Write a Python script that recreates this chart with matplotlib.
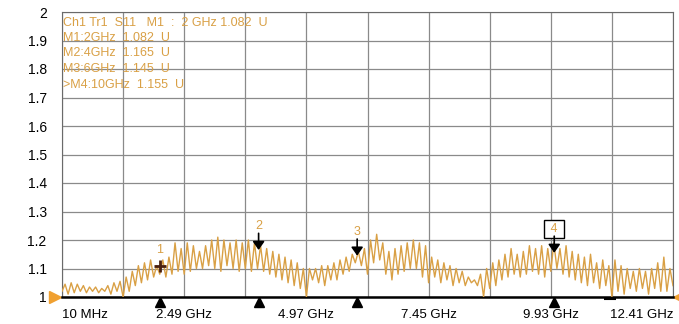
import matplotlib.pyplot as plt
import matplotlib.transforms as mtransforms
import numpy as np

# S11 trace (201 sweep points, 10 MHz .. 12.41 GHz)
s11 = [
    1.02, 1.045, 1.01, 1.05, 1.015, 1.045, 1.02, 1.04, 1.015, 1.035,
    1.02, 1.035, 1.015, 1.03, 1.02, 1.04, 1.01, 1.05, 1.02, 1.055,
    1.00, 1.07, 1.02, 1.09, 1.04, 1.11, 1.05, 1.12, 1.06, 1.13,
    1.07, 1.11, 1.08, 1.13, 1.07, 1.14, 1.08, 1.19, 1.09, 1.17,
    1.08, 1.19, 1.09, 1.18, 1.10, 1.16, 1.10, 1.18, 1.11, 1.20,
    1.10, 1.21, 1.09, 1.20, 1.11, 1.19, 1.10, 1.20, 1.09, 1.19,
    1.10, 1.20, 1.09, 1.19, 1.10, 1.18, 1.09, 1.17, 1.08, 1.16,
    1.07, 1.15, 1.06, 1.14, 1.05, 1.13, 1.04, 1.12, 1.03, 1.10,
    1.00, 1.10, 1.06, 1.10, 1.05, 1.11, 1.04, 1.11, 1.06, 1.12,
    1.06, 1.13, 1.08, 1.14, 1.09, 1.15, 1.12, 1.16, 1.11, 1.17,
    1.08, 1.20, 1.12, 1.22, 1.13, 1.19, 1.08, 1.16, 1.06, 1.17,
    1.08, 1.18, 1.09, 1.19, 1.10, 1.20, 1.10, 1.19, 1.07, 1.18,
    1.05, 1.14, 1.07, 1.13, 1.05, 1.12, 1.06, 1.11, 1.04, 1.10,
    1.05, 1.09, 1.04, 1.07, 1.05, 1.06, 1.04, 1.08, 1.00, 1.10,
    1.03, 1.12, 1.04, 1.13, 1.06, 1.15, 1.07, 1.17, 1.08, 1.15,
    1.07, 1.16, 1.08, 1.18, 1.09, 1.17, 1.08, 1.18, 1.07, 1.17,
    1.09, 1.19, 1.10, 1.17, 1.08, 1.18, 1.07, 1.16, 1.06, 1.15,
    1.05, 1.14, 1.04, 1.15, 1.05, 1.12, 1.03, 1.13, 1.04, 1.11,
    1.00, 1.13, 1.02, 1.11, 1.01, 1.10, 1.03, 1.09, 1.02, 1.10,
    1.03, 1.09, 1.01, 1.10, 1.03, 1.12, 1.02, 1.14, 1.02, 1.10,
    1.04,
]
f_start, f_stop = 0.01, 12.41  # GHz

x_labels = ["10 MHz", "", "2.49 GHz", "", "4.97 GHz", "", "7.45 GHz", "",
            "9.93 GHz", "", "12.41 GHz"]
y_ticks = [1.0, 1.1, 1.2, 1.3, 1.4, 1.5, 1.6, 1.7, 1.8, 1.9, 2.0]
y_labels = ["1", "1.1", "1.2", "1.3", "1.4", "1.5", "1.6", "1.7", "1.8", "1.9", "2"]

m_names = ["1", "2", "3", "4"]
m_freq = [2.0, 4.0, 6.0, 10.0]
m_val = [1.082, 1.165, 1.145, 1.155]

info = [
    "Ch1 Tr1  S11   M1  :  2 GHz 1.082  U",
    "M1:2GHz  1.082  U",
    "M2:4GHz  1.165  U",
    "M3:6GHz  1.145  U",
    ">M4:10GHz  1.155  U",
]

ORANGE = "#d9a045"

plt.rcParams['font.family'] = ['Liberation Sans', 'DejaVu Sans']

fig = plt.figure(figsize=(6.79, 3.24), dpi=100)
ax = fig.add_axes([62 / 679, 27 / 324, 611 / 679, 285 / 324])

freq = np.linspace(f_start, f_stop, len(s11))
ax.plot(freq, s11, color=ORANGE, lw=1.0, zorder=3)

ax.set_xlim(f_start, f_stop)
ax.set_ylim(1, 2)
ax.set_xticks(np.linspace(f_start, f_stop, len(x_labels)))
ax.set_xticklabels(x_labels, fontsize=9.5)
ax.set_yticks(y_ticks)
ax.set_yticklabels(y_labels, fontsize=10)
xt = ax.get_xticklabels()
xt[0].set_horizontalalignment('left')
xt[-1].set_horizontalalignment('right')
ax.tick_params(axis='x', length=0, pad=9)
ax.tick_params(axis='y', length=0, pad=11)
ax.grid(True, color='#8a8a8a', lw=0.9)
ax.set_axisbelow(True)
for side in ['left', 'top', 'right']:
    ax.spines[side].set_color('#6a6a6a')
ax.spines['bottom'].set_color('black')
ax.spines['bottom'].set_linewidth(1.8)

# info block in the top left corner
for i, line in enumerate(info):
    ax.text(0.002, (297 - 22.5 - 15.5 * i) / 285, line, transform=ax.transAxes,
            color=ORANGE, fontsize=9, va='center', ha='left')

# markers on the trace
for name, f, v in zip(m_names, m_freq, m_val):
    if name == "1":
        tr = mtransforms.offset_copy(ax.transData, fig=fig, x=0, y=5.5, units='points')
        ax.plot(f, v, marker='+', ms=9, mew=2, color='#4a2010', transform=tr, zorder=5)
        ax.annotate(name, (f, v), xytext=(0, 17), textcoords='offset points',
                    ha='center', va='center', color=ORANGE, fontsize=9)
    else:
        ax.annotate('', (f, v), xytext=(0, 12), textcoords='offset points',
                    arrowprops=dict(arrowstyle='-|>,head_length=0.5,head_width=0.35',
                                    color='black', lw=1.2, shrinkA=0, shrinkB=0),
                    zorder=5)
        box = None
        if name == "4":
            box = dict(boxstyle='square,pad=0.25', fc='white', ec='black', lw=1)
        ax.annotate(name if name != "4" else " 4 ", (f, v), xytext=(0, 17),
                    textcoords='offset points', ha='center', va='center',
                    color=ORANGE, fontsize=9, bbox=box)

# marker flags below the x axis
bt = mtransforms.blended_transform_factory(ax.transData, ax.transAxes)
ax.plot(m_freq, [-0.018] * len(m_freq), ls='none', marker='^', ms=7,
        color='black', transform=bt, clip_on=False)
ax.plot([11.13], [-0.006], ls='none', marker='_', ms=8, mew=1.5,
        color='black', transform=bt, clip_on=False)

# reference level arrows at both edges
ax.plot([-0.012], [0], ls='none', marker='>', ms=8, color='#f0a030',
        transform=ax.transAxes, clip_on=False)
ax.plot([1.01], [0], ls='none', marker='<', ms=8, color='#f0a030',
        transform=ax.transAxes, clip_on=False)

fig.savefig("out.png", dpi=100)
